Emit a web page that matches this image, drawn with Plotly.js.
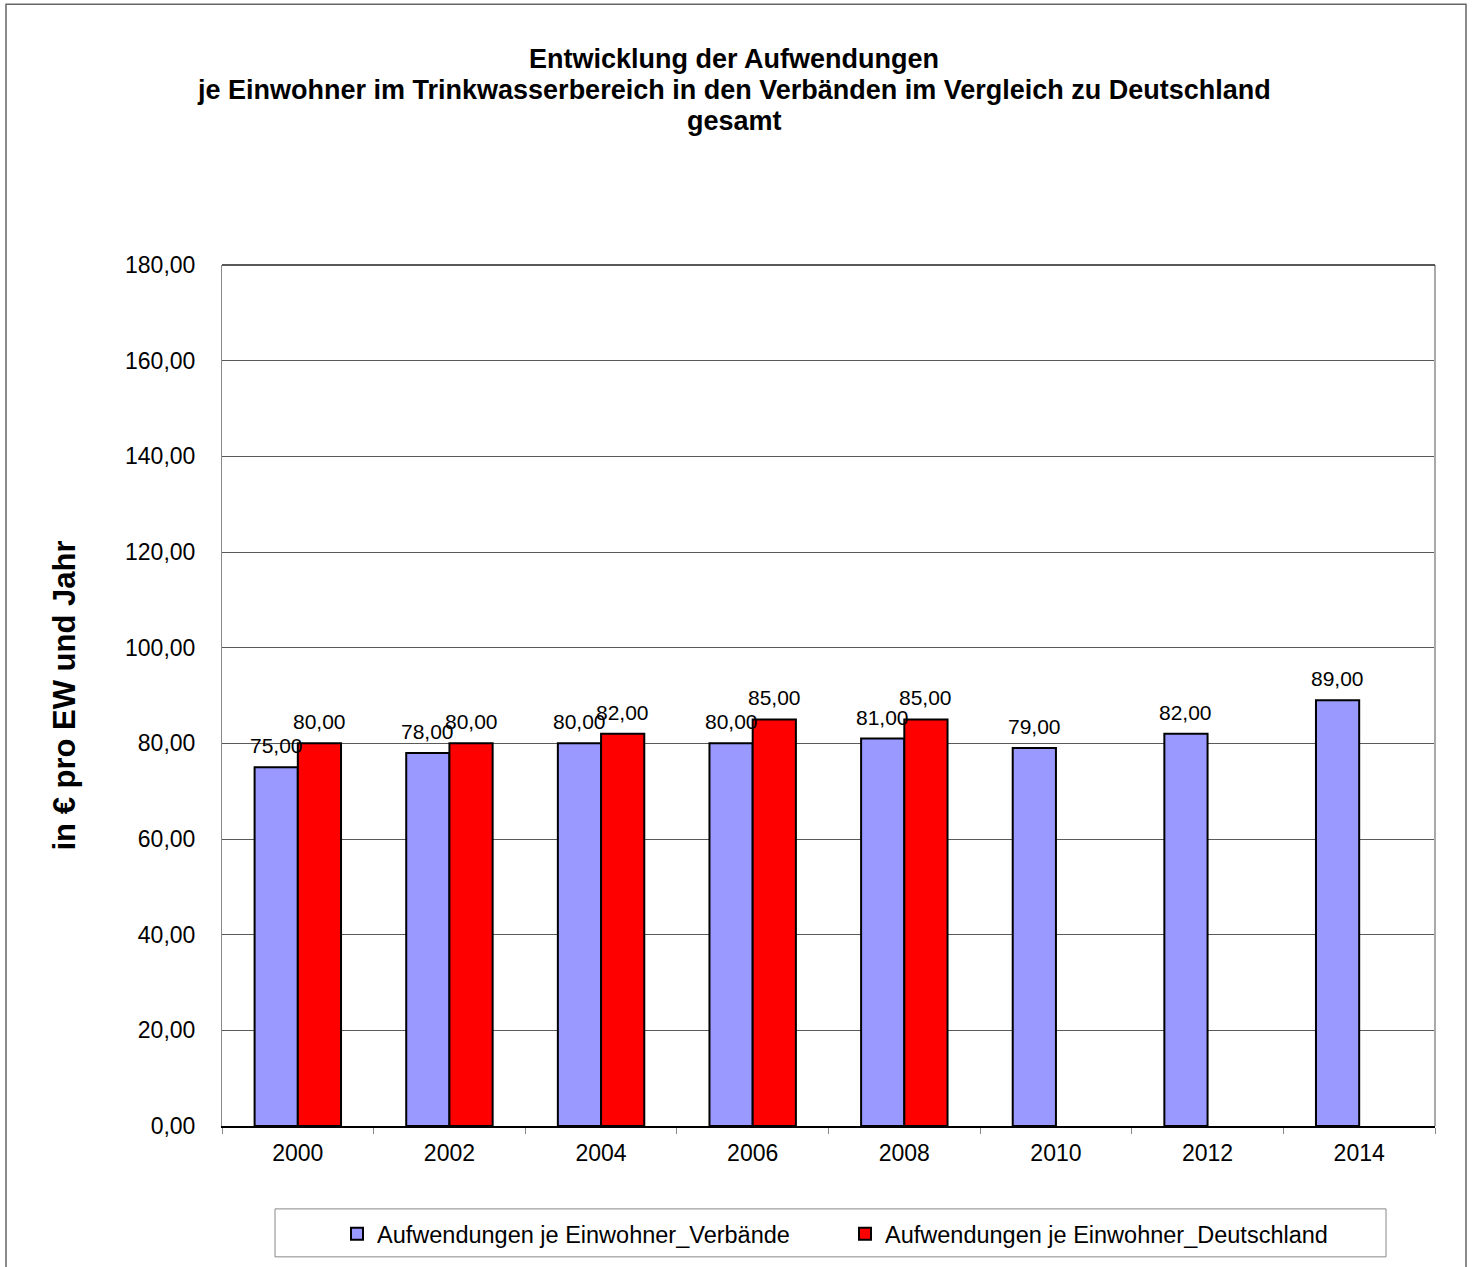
<!DOCTYPE html>
<html>
<head>
<meta charset="utf-8">
<script src="https://cdn.plot.ly/plotly-3.0.1.min.js"></script>
<style>
html,body{margin:0;padding:0;background:#fff;}
#chart{width:1473px;height:1267px;}
</style>
</head>
<body>
<div id="chart"></div>
<script>
const years = ['2000','2002','2004','2006','2008','2010','2012','2014'];
const verbaende = [75, 78, 80, 80, 81, 79, 82, 89];
const deutschland = [80, 80, 82, 85, 85, null, null, null];
const seriesNames = ['Aufwendungen je Einwohner_Verbände', 'Aufwendungen je Einwohner_Deutschland'];
const titleLines = [
  'Entwicklung der Aufwendungen',
  'je Einwohner im Trinkwasserbereich in den Verbänden im Vergleich zu Deutschland',
  'gesamt'
];
const yTitle = '<b>in € pro EW und Jahr</b>';

const font = 'Liberation Sans, Arial, sans-serif';
const fmt = v => v.toFixed(2).replace('.', ',');

const common = {
  type: 'bar',
  x: years,
  hoverinfo: 'skip'
};

const traces = [
  Object.assign({}, common, {
    name: seriesNames[0], y: verbaende,
    marker: {color: '#9999FF', line: {color: '#000', width: 2}}
  }),
  Object.assign({}, common, {
    name: seriesNames[1], y: deutschland,
    marker: {color: '#FF0000', line: {color: '#000', width: 2}}
  })
];

const L = 222, R = 1435, T = 265, B = 1127;
const W = R - L, H = B - T;
const px = v => (v - L) / W;
const py = v => (B - v) / H;

const BARGAP = 0.43;
const halfBar = (W / years.length) * (1 - BARGAP) / 4;

const annotations = [];
titleLines.forEach((t, i) => {
  annotations.push({
    text: '<b>' + t + '</b>', xref: 'paper', yref: 'paper',
    x: px(734), y: py(59 + 31 * i), xanchor: 'center', yanchor: 'middle',
    showarrow: false, font: {family: font, size: 27, color: '#000'}
  });
});
[verbaende, deutschland].forEach((series, s) => {
  series.forEach((v, i) => {
    if (v === null) return;
    annotations.push({
      text: fmt(v), xref: 'x', yref: 'y', x: i, y: v,
      xshift: s === 0 ? -halfBar : halfBar, yshift: 8,
      xanchor: 'center', yanchor: 'bottom', showarrow: false,
      font: {family: font, size: 21, color: '#000'}
    });
  });
});

const layout = {
  width: 1473, height: 1267,
  margin: {l: L, r: 1473 - R, t: T, b: 1267 - B, pad: 0},
  paper_bgcolor: '#fff', plot_bgcolor: '#fff',
  font: {family: font, size: 18, color: '#000'},
  barmode: 'group',
  bargap: BARGAP,
  bargroupgap: 0,
  separators: ',.',
  xaxis: {
    type: 'category',
    categoryorder: 'array', categoryarray: years,
    range: [-0.5, years.length - 0.5], autorange: false,
    showgrid: false,
    showline: true, linecolor: '#000', linewidth: 1.5,
    ticks: 'outside', tickson: 'boundaries', ticklen: 6, tickcolor: '#888', tickwidth: 1,
    tickfont: {family: font, size: 23, color: '#000'},
    tickangle: 0,
    ticklabelstandoff: 6,
    fixedrange: true
  },
  yaxis: {
    range: [0, 180], autorange: false,
    dtick: 20,
    tickformat: '.2f',
    showgrid: true, gridcolor: '#5a5a5a', gridwidth: 1,
    showline: true, linecolor: '#888', linewidth: 1,
    ticks: '', zeroline: false,
    tickfont: {family: font, size: 23, color: '#000'},
    ticklabelstandoff: 21,
    title: {text: yTitle, font: {family: font, size: 31, color: '#000'}, standoff: 40},
    fixedrange: true
  },
  showlegend: true,
  legend: {
    orientation: 'h',
    x: px(337), xanchor: 'left',
    y: py(1212), yanchor: 'top',
    bgcolor: 'rgba(0,0,0,0)',
    borderwidth: 0,
    font: {family: font, size: 23.5, color: '#000'},
    entrywidth: 463, entrywidthmode: 'pixels',
    itemclick: false, itemdoubleclick: false,
    traceorder: 'normal'
  },
  annotations: annotations,
  shapes: [
    {type: 'line', xref: 'paper', yref: 'paper', x0: 1, x1: 1, y0: 0, y1: 1,
     line: {color: '#aaa', width: 2}},
    {type: 'line', xref: 'paper', yref: 'paper', x0: 0, x1: 1, y0: 1, y1: 1,
     line: {color: '#222', width: 1.5}},
    {type: 'rect', xref: 'paper', yref: 'paper', x0: px(275), x1: px(1386), y0: py(1210), y1: py(1258),
     line: {color: '#888', width: 1}, fillcolor: 'rgba(0,0,0,0)', layer: 'below'},
    {type: 'rect', xref: 'paper', yref: 'paper', x0: px(6), x1: px(1466), y0: py(4), y1: py(1275),
     line: {color: '#666', width: 1.5}, fillcolor: 'rgba(0,0,0,0)', layer: 'below'}
  ]
};

Plotly.newPlot('chart', traces, layout, {displayModeBar: false, staticPlot: true});
</script>
</body>
</html>
